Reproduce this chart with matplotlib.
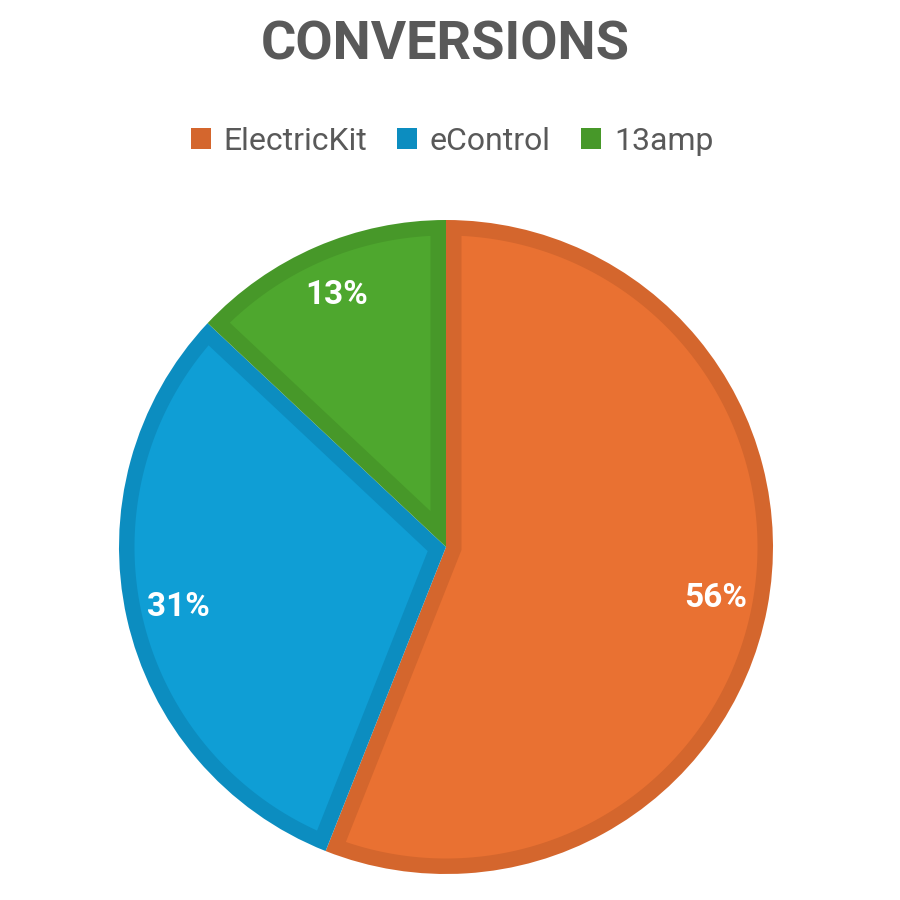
import numpy as np
import matplotlib
matplotlib.use("Agg")
import matplotlib.pyplot as plt
from matplotlib.patches import Patch, Polygon

# 数据
labels = ["ElectricKit", "eControl", "13amp"]
values = [56, 31, 13]
fills = ["#E97132", "#0F9ED5", "#4EA72E"]
edges = ["#D4662D", "#0C8DC0", "#479829"]

plt.rcParams["font.family"] = ["Roboto", "DejaVu Sans"]

fig = plt.figure(figsize=(9, 9), dpi=100)
fig.patch.set_facecolor("white")

# 饼图区域: 圆心 (446, 547) px, 半径 327 px
cx, cy, r = 446, 547, 327
ax = fig.add_axes([(cx - r) / 900, (900 - cy - r) / 900, 2 * r / 900, 2 * r / 900])

# 外层扇形用深色 (作为边框)
wedges, texts, autotexts = ax.pie(
    values,
    colors=edges,
    startangle=90,
    counterclock=False,
    radius=1,
    autopct="%1.0f%%",
    pctdistance=0.84,
    wedgeprops=dict(linewidth=0),
    textprops=dict(color="white", fontsize=24, fontweight="bold"),
)
ax.set_xlim(-1, 1)
ax.set_ylim(-1, 1)
ax.set_aspect("equal")
ax.axis("off")

# 内层: 向内收缩 d 的扇形, 模拟 Excel 的内描边
d = 15.5 / r
for w, fc in zip(wedges, fills):
    t1, t2 = np.radians(w.theta1), np.radians(w.theta2)
    half = (t2 - t1) / 2
    corner = d / np.sin(half) * np.array([np.cos(t1 + half), np.sin(t1 + half)])
    rho = w.r - d
    off = np.arctan2(d, np.sqrt(rho ** 2 - d ** 2))
    arc = np.linspace(t1 + off, t2 - off, 200)
    pts = np.vstack([corner, np.column_stack([rho * np.cos(arc), rho * np.sin(arc)])])
    ax.add_patch(Polygon(pts, closed=True, facecolor=fc, edgecolor="none", zorder=1.5))

for t in autotexts:
    t.set_zorder(3)

fig.text(445 / 900, 1 - 45 / 900, "CONVERSIONS", ha="center", va="center",
         fontsize=39, fontweight="bold", color="#595959")

handles = [Patch(facecolor=ec, edgecolor="none") for ec in edges]
fig.legend(handles, labels, loc="center", bbox_to_anchor=(452 / 900, 1 - 141 / 900),
           ncol=3, frameon=False, fontsize=23, labelcolor="#595959",
           handlelength=0.62, handleheight=0.62, handletextpad=0.4, columnspacing=0.95)

plt.savefig("out.png", dpi=100, facecolor="white")
plt.close()
